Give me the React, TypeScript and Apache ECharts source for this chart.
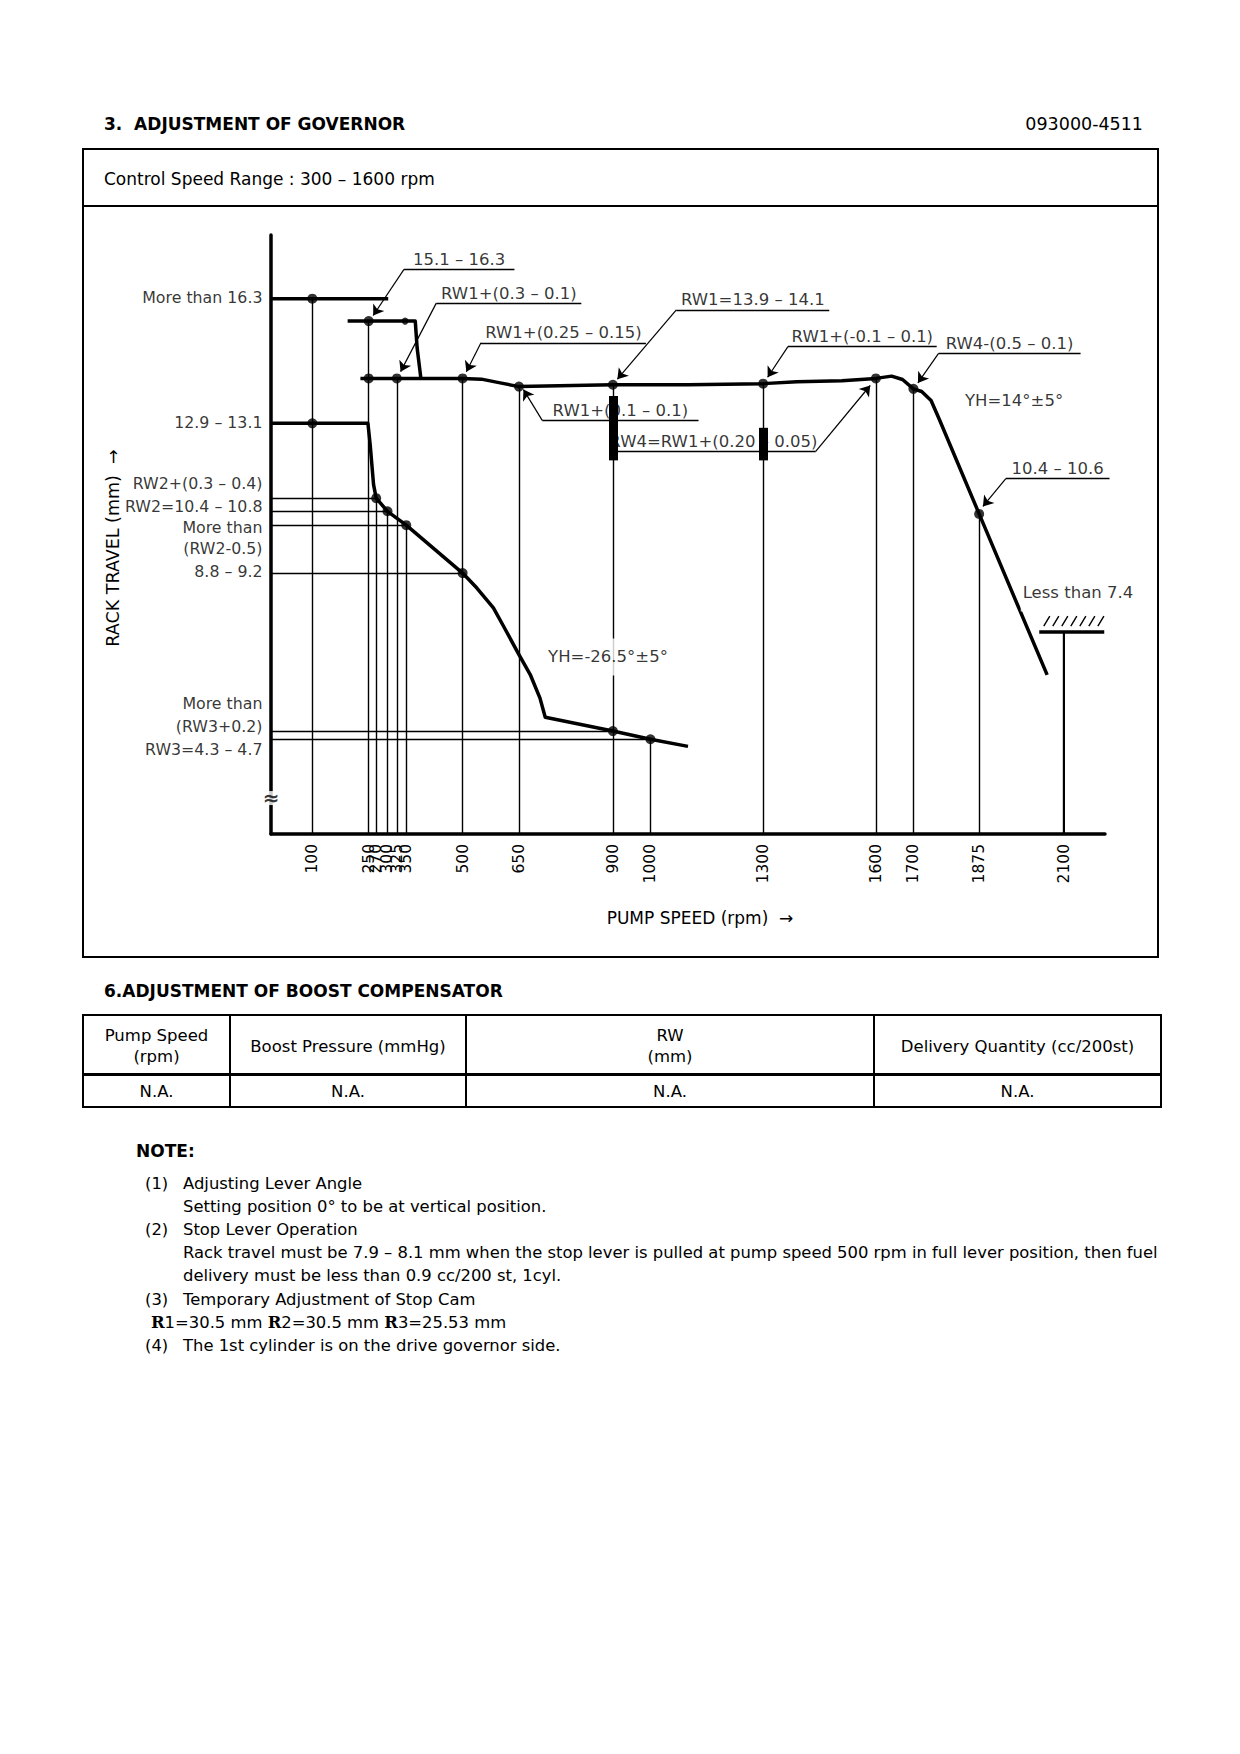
import React, { useEffect, useRef } from "react";
import * as echarts from "echarts";

const FONT = '"DejaVu Sans", "Liberation Sans", sans-serif';

// ---------- axes ----------
const X_MIN = -10;
const X_MAX = 2210;
const Y_MIN = 2;
const Y_MAX = 18;

// labelled pump speeds (rpm) and the rack travel where each drop line starts
const xTickValues = [100, 250, 270, 300, 325, 350, 500, 650, 900, 1000, 1300, 1600, 1700, 1875, 2100];
const dropTopRack = [16.3, 15.7, 10.97, 10.62, 14.17, 10.25, 14.17, 13.95, 14.0, 4.53, 14.03, 14.17, 13.89, 10.55, 7.4];

// ---------- curves (rpm, rack travel mm) ----------
const moreThanRpm = [-10, 302];
const moreThanRack = [16.3, 16.3];

const topStepRpm = [194, 250, 374, 379, 389];
const topStepRack = [15.7, 15.7, 15.7, 14.98, 14.17];

const fullLoadRpm = [228, 500, 550, 600, 650, 900, 1100, 1300, 1390, 1510, 1600, 1642, 1671, 1700, 1722, 1747, 1768, 1875, 2056];
const fullLoadRack = [14.17, 14.17, 14.15, 14.05, 13.95, 14.0, 14.0, 14.03, 14.08, 14.11, 14.17, 14.23, 14.14, 13.89, 13.82, 13.58, 13.1, 10.55, 6.25];

const lowIdleRpm = [-10, 100, 248, 254, 263, 270, 300, 350, 500, 538, 582, 609, 650, 680, 706, 720, 900, 1000, 1100];
const lowIdleRack = [12.97, 12.97, 12.97, 12.4, 11.33, 10.97, 10.62, 10.25, 8.97, 8.57, 8.04, 7.55, 6.79, 6.26, 5.63, 5.12, 4.75, 4.53, 4.34];

// thin reference lines from the rack-travel axis
const refLineRack = [10.97, 10.62, 10.25, 8.97, 4.75, 4.53];
const refLineEndRpm = [270, 300, 350, 500, 900, 1000];

// measuring points
const dotRpm = [100, 100, 250, 250, 325, 500, 650, 900, 1300, 1600, 1700, 1875, 270, 300, 350, 500, 900, 1000];
const dotRack = [16.3, 12.97, 15.7, 14.17, 14.17, 14.17, 13.95, 14.0, 14.03, 14.17, 13.89, 10.55, 10.97, 10.62, 10.25, 8.97, 4.75, 4.53];
const smallDotRpm = [347];
const smallDotRack = [15.7];

// tolerance bars
const barRpm = [900, 1300];
const barLow = [11.98, 11.98];
const barHigh = [13.7, 12.85];

// stopper
const stopperRack = 7.4;
const stopperFromRpm = 2035;
const stopperToRpm = 2208;
const stopperPostRpm = 2100;

// y-axis side labels
const yLabelText = ["More than 16.3", "12.9 – 13.1", "RW2+(0.3 – 0.4)", "RW2=10.4 – 10.8", "More than", "(RW2-0.5)", "8.8 – 9.2", "More than", "(RW3+0.2)", "RW3=4.3 – 4.7"];
const yLabelRack = [16.33, 12.99, 11.37, 10.74, 10.2, 9.62, 9.02, 5.49, 4.86, 4.27];

// leader annotations
const leaderText = ["15.1 – 16.3", "RW1+(0.3 – 0.1)", "RW1+(0.25 – 0.15)", "RW1=13.9 – 14.1", "RW1+(-0.1 – 0.1)", "RW4-(0.5 – 0.1)", "RW1+(0.1 – 0.1)", "RW4=RW1+(0.20 – 0.05)", "10.4 – 10.6"];
const leaderTipRpm = [262, 335, 510, 912, 1312, 1712, 662, 1585, 1885];
const leaderTipRack = [15.85, 14.35, 14.35, 14.15, 14.2, 14.05, 13.87, 13.98, 10.75];
const leaderKneeRpm = [344, 430, 549, 1069, 1366, 1767, 712, 1440, 1946];
const leaderLineRack = [17.08, 16.18, 15.12, 16.0, 15.02, 14.84, 13.05, 12.22, 11.49];
const leaderEndRpm = [638, 816, 988, 1476, 1762, 2145, 1128, 895, 2222];

// free notes in the plot
const freeText = ["YH=14°±5°", "YH=-26.5°±5°", "Less than 7.4"];
const freeRpm = [1968, 887, 2138];
const freeRack = [13.59, 6.73, 8.44];

// ---------- table / notes ----------
const tableHeaders = ["Pump Speed\n(rpm)", "Boost Pressure (mmHg)", "RW\n(mm)", "Delivery Quantity (cc/200st)"];
const tableRow = ["N.A.", "N.A.", "N.A.", "N.A."];

const noteNumbers = ["(1)", "", "(2)", "", "", "(3)", "", "(4)"];
const noteLines = [
  "Adjusting Lever Angle",
  "Setting position 0° to be at vertical position.",
  "Stop Lever Operation",
  "Rack travel must be 7.9 – 8.1 mm when the stop lever is pulled at pump speed 500 rpm in full lever position, then fuel",
  "delivery must be less than 0.9 cc/200 st, 1cyl.",
  "Temporary Adjustment of Stop Cam",
  "{s|R}1=30.5 mm {s|R}2=30.5 mm {s|R}3=25.53 mm",
  "The 1st cylinder is on the drive governor side.",
];

const pairs = (xs: number[], ys: number[]) => xs.map((x, i) => [x, ys[i]]);

function buildOption() {
  const black = "#000";
  const series: any[] = [];

  // thick curves
  [
    pairs(moreThanRpm, moreThanRack),
    pairs(topStepRpm, topStepRack),
    pairs(fullLoadRpm, fullLoadRack),
    pairs(lowIdleRpm, lowIdleRack),
  ].forEach((d) =>
    series.push({
      type: "line",
      data: d,
      symbol: "none",
      clip: false,
      silent: true,
      z: 5,
      lineStyle: { color: black, width: 3.5, join: "round" },
    })
  );

  // thin lines: reference lines and drop lines
  const thinSegs: any[] = [];
  refLineRack.forEach((v, i) => thinSegs.push({ coords: [[X_MIN, v], [refLineEndRpm[i], v]] }));
  xTickValues.forEach((r, i) => thinSegs.push({ coords: [[r, dropTopRack[i]], [r, Y_MIN]] }));
  // stopper hatch
  for (let i = 0; i < 7; i++) {
    const x0 = stopperFromRpm + 12 + i * 24;
    thinSegs.push({ coords: [[x0, stopperRack + 0.15], [x0 + 16, stopperRack + 0.42]] });
  }
  leaderKneeRpm.forEach((k, i) => thinSegs.push({ coords: [[k, leaderLineRack[i]], [leaderEndRpm[i], leaderLineRack[i]]] }));
  series.push({
    type: "lines",
    coordinateSystem: "cartesian2d",
    clip: false,
    silent: true,
    z: 3,
    lineStyle: { color: black, width: 1.4, opacity: 1 },
    data: thinSegs,
  });

  // leader arrows
  series.push({
    type: "lines",
    coordinateSystem: "cartesian2d",
    clip: false,
    silent: true,
    z: 7,
    symbol: ["none", "arrow"],
    symbolSize: 10,
    lineStyle: { color: black, width: 1.2, opacity: 1 },
    data: leaderKneeRpm.map((k, i) => ({ coords: [[k, leaderLineRack[i]], [leaderTipRpm[i], leaderTipRack[i]]] })),
  });

  // stopper (thick)
  series.push({
    type: "lines",
    coordinateSystem: "cartesian2d",
    clip: false,
    silent: true,
    z: 6,
    lineStyle: { color: black, width: 3.5, opacity: 1 },
    data: [{ coords: [[stopperFromRpm, stopperRack], [stopperToRpm, stopperRack]] }],
  });
  series.push({
    type: "lines",
    coordinateSystem: "cartesian2d",
    clip: false,
    silent: true,
    z: 6,
    lineStyle: { color: black, width: 2, opacity: 1 },
    data: [{ coords: [[stopperPostRpm, stopperRack], [stopperPostRpm, Y_MIN]] }],
  });

  // dots
  series.push({
    type: "scatter",
    data: pairs(dotRpm, dotRack),
    symbol: "circle",
    symbolSize: 10,
    itemStyle: { color: black },
    silent: true,
    z: 8,
  });
  series.push({
    type: "scatter",
    data: pairs(smallDotRpm, smallDotRack),
    symbol: "circle",
    symbolSize: 7,
    itemStyle: { color: black },
    silent: true,
    z: 8,
  });

  const labelBase = { color: black, fontFamily: FONT, fontSize: 16.5 };
  const invisible = { color: "rgba(0,0,0,0)" };

  // y-side labels
  series.push({
    type: "scatter",
    symbolSize: 1,
    itemStyle: invisible,
    silent: true,
    z: 10,
    data: yLabelText.map((t, i) => ({ value: [X_MIN, yLabelRack[i]], name: t })),
    label: { show: true, position: "left", distance: 8, formatter: "{b}", color: black, fontFamily: FONT, fontSize: 15.8 },
  });

  // leader texts
  series.push({
    type: "scatter",
    symbolSize: 1,
    itemStyle: invisible,
    silent: true,
    z: 10,
    data: leaderText.map((t, i) => ({ value: [(leaderKneeRpm[i] + leaderEndRpm[i]) / 2, leaderLineRack[i]], name: t })),
    label: { show: true, position: "top", distance: 1, formatter: "{b}", ...labelBase },
  });

  // free texts
  series.push({
    type: "scatter",
    symbolSize: 1,
    itemStyle: invisible,
    silent: true,
    z: 10,
    data: freeText.map((t, i) => ({ value: [freeRpm[i], freeRack[i]], name: t })),
    label: {
      show: true,
      position: "inside",
      formatter: "{b}",
      backgroundColor: "#fff",
      padding: [10, 2],
      ...labelBase,
    },
  });

  // axis break mark
  series.push({
    type: "scatter",
    symbolSize: 1,
    itemStyle: invisible,
    silent: true,
    z: 10,
    data: [{ value: [X_MIN, 2.96], name: "≈" }],
    label: {
      show: true,
      position: "inside",
      formatter: "{b}",
      color: black,
      fontFamily: FONT,
      fontSize: 20,
      fontWeight: "bold",
      backgroundColor: "#fff",
      padding: [0, 0],
      lineHeight: 14,
    },
  });

  // tolerance bars (above text)
  series.push({
    type: "lines",
    coordinateSystem: "cartesian2d",
    clip: false,
    silent: true,
    z: 20,
    lineStyle: { color: black, width: 9, opacity: 1, cap: "butt" },
    data: barRpm.map((r, i) => ({ coords: [[r, barLow[i]], [r, barHigh[i]]] })),
  });

  // ---------- page graphics ----------
  const txt = (x: number, y: number, text: string, o: any = {}) => ({
    type: "text",
    x,
    y,
    silent: true,
    style: {
      text,
      fill: black,
      fontFamily: FONT,
      fontSize: o.size || 16.5,
      fontWeight: o.weight || "normal",
      textAlign: o.align || "left",
      textVerticalAlign: "middle",
      lineHeight: o.lineHeight || 21,
      rich: o.rich,
    },
    rotation: o.rotation || 0,
  });
  const ln = (x1: number, y1: number, x2: number, y2: number, w = 2) => ({
    type: "line",
    silent: true,
    shape: { x1, y1, x2, y2 },
    style: { stroke: black, lineWidth: w },
  });

  const g: any[] = [];
  g.push(txt(104, 124, "3.  ADJUSTMENT OF GOVERNOR", { weight: "bold", size: 17 }));
  g.push(txt(1143, 124, "093000-4511", { size: 17.5, align: "right" }));
  g.push({ type: "rect", silent: true, shape: { x: 83, y: 149, width: 1075, height: 808 }, style: { fill: "none", stroke: black, lineWidth: 2 } });
  g.push(ln(83, 206, 1158, 206, 2));
  g.push(txt(104, 179, "Control Speed Range : 300 – 1600 rpm", { size: 17 }));
  g.push(txt(113, 548, "RACK TRAVEL (mm)  →", { size: 17.5, align: "center", rotation: Math.PI / 2 }));
  g.push(txt(700, 918, "PUMP SPEED (rpm)  →", { size: 17, align: "center" }));

  g.push(txt(104, 991, "6.ADJUSTMENT OF BOOST COMPENSATOR", { weight: "bold", size: 17 }));
  // table
  const tl = 83, tr = 1161, tt = 1015, th = 1074.5, tb = 1107;
  const cols = [tl, 230, 466, 874, tr];
  g.push({ type: "rect", silent: true, shape: { x: tl, y: tt, width: tr - tl, height: tb - tt }, style: { fill: "none", stroke: black, lineWidth: 2 } });
  g.push(ln(tl, th, tr, th, 3));
  cols.slice(1, 4).forEach((c) => g.push(ln(c, tt, c, tb, 2)));
  tableHeaders.forEach((h, i) => {
    const cx = (cols[i] + cols[i + 1]) / 2;
    g.push(txt(cx, 1046, h, { align: "center", size: 16.5, lineHeight: 21 }));
    g.push(txt(cx, 1091, tableRow[i], { align: "center", size: 16.5 }));
  });

  // notes
  g.push(txt(136, 1151, "NOTE:", { weight: "bold", size: 17 }));
  const noteY0 = 1183;
  const noteStep = 23.2;
  noteLines.forEach((line, i) => {
    const y = noteY0 + i * noteStep;
    if (noteNumbers[i]) g.push(txt(145, y, noteNumbers[i], { size: 16.4 }));
    const isCam = line.indexOf("{s|") >= 0;
    g.push(
      txt(isCam ? 151 : 183, y, line, {
        size: 16.4,
        rich: isCam ? { s: { fontFamily: '"DejaVu Serif", serif', fontWeight: "bold", fontSize: 16.4, fill: black } } : undefined,
      })
    );
  });

  return {
    animation: false,
    backgroundColor: "#fff",
    textStyle: { fontFamily: FONT },
    grid: { left: 271, top: 235, width: 834, height: 599, containLabel: false },
    xAxis: {
      type: "value",
      min: X_MIN,
      max: X_MAX,
      axisLine: { show: true, onZero: false, lineStyle: { color: black, width: 3.5 } },
      axisTick: { show: false },
      splitLine: { show: false },
      axisLabel: {
        show: true,
        customValues: xTickValues,
        rotate: 90,
        margin: 10,
        color: black,
        fontFamily: FONT,
        fontSize: 15.5,
        formatter: (v: number) => String(v),
      },
    },
    yAxis: {
      type: "value",
      min: Y_MIN,
      max: Y_MAX,
      axisLine: { show: true, onZero: false, lineStyle: { color: black, width: 3.5 } },
      axisTick: { show: false },
      splitLine: { show: false },
      axisLabel: { show: false },
    },
    series,
    graphic: g,
  };
}

export default function App() {
  const ref = useRef<HTMLDivElement>(null);
  useEffect(() => {
    if (!ref.current) return;
    const chart = echarts.init(ref.current, null, { renderer: "svg" });
    chart.setOption(buildOption() as any);
    return () => chart.dispose();
  }, []);
  return (
    <div
      ref={ref}
      style={{ position: "absolute", left: 0, top: 0, width: 1240, height: 1754, background: "#fff" }}
    />
  );
}
